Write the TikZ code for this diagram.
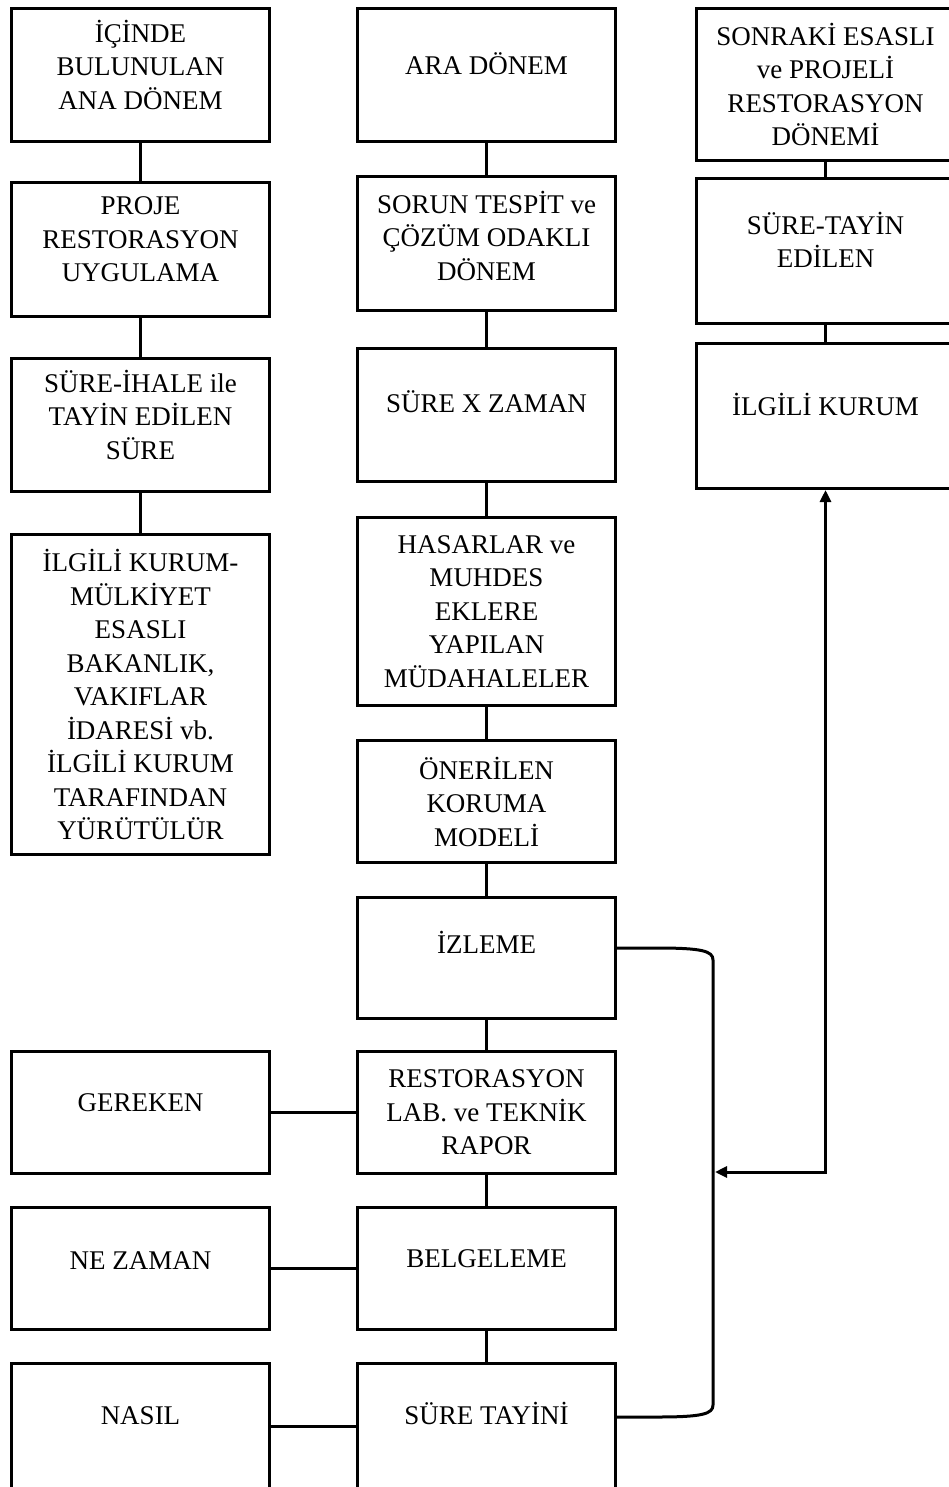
\documentclass[tikz,border=0pt]{standalone}
\usepackage{fontspec}
\setmainfont{Liberation Serif}
\usetikzlibrary{arrows.meta,positioning}
\newcommand{\altbos}[1]{\rule[-#1pt]{0pt}{#1pt}}

\begin{document}
\begin{tikzpicture}[x=1pt,y=-1pt,
    kutu/.style={draw,line width=3pt,minimum width=258pt,inner sep=2pt,align=center,font=\fontsize{27}{33.5}\selectfont},
    hat/.style={line width=3pt},
    ok/.style={hat,{Triangle[length=12pt,width=11pt]}-{Triangle[length=12pt,width=11pt]}}
]
\useasboundingbox (0,0) rectangle (949,1487);

\node[kutu,minimum height=133pt] (ana) at (140.5,75) {İÇİNDE\\BULUNULAN\\ANA DÖNEM\altbos{21}};
\node[kutu,minimum height=134pt,below=38pt of ana] (proje) {PROJE\\RESTORASYON\\UYGULAMA\altbos{20}};
\node[kutu,minimum height=133pt,below=39pt of proje] (ihale) {SÜRE-İHALE ile\\TAYİN EDİLEN\\SÜRE\altbos{21}};
\node[kutu,minimum height=320pt,below=40pt of ihale] (kurum) {İLGİLİ KURUM-\\MÜLKİYET\\ESASLI\\BAKANLIK,\\VAKIFLAR\\İDARESİ vb.\\İLGİLİ KURUM\\TARAFINDAN\\YÜRÜTÜLÜR};

\node[kutu,minimum height=133pt] (ara) at (486.5,75) {ARA DÖNEM\altbos{23}};
\node[kutu,minimum height=134pt,below=32pt of ara] (sorun) {SORUN TESPİT ve\\ÇÖZÜM ODAKLI\\DÖNEM\altbos{16}};
\node[kutu,minimum height=133pt,below=35pt of sorun] (surex) {SÜRE X ZAMAN\altbos{27}};
\node[kutu,minimum height=188pt,below=33pt of surex] (hasar) {HASARLAR ve\\MUHDES\\EKLERE\\YAPILAN\\MÜDAHALELER};
\node[kutu,minimum height=122pt,below=32pt of hasar] (oneri) {ÖNERİLEN\\KORUMA\\MODELİ};
\node[kutu,minimum height=121pt,below=32pt of oneri] (izleme) {İZLEME\altbos{31}};
\node[kutu,minimum height=122pt,below=30pt of izleme] (lab) {RESTORASYON\\LAB. ve TEKNİK\\RAPOR};
\node[kutu,minimum height=122pt,below=31pt of lab] (belge) {BELGELEME\altbos{20}};
\node[kutu,minimum height=125pt,below=31pt of belge] (tayin) {SÜRE TAYİNİ\altbos{25}};

\node[kutu,minimum height=122pt,left=85pt of lab] (gereken) {GEREKEN\altbos{19}};
\node[kutu,minimum height=122pt,left=85pt of belge] (nezaman) {NE ZAMAN\altbos{15}};
\node[kutu,minimum height=125pt,left=85pt of tayin] (nasil) {NASIL\altbos{20}};

\node[kutu,minimum height=152pt] (sonraki) at (825.5,84.5) {SONRAKİ ESASLI\\ve PROJELİ\\RESTORASYON\\DÖNEMİ};
\node[kutu,minimum height=145pt,below=15pt of sonraki] (suretayin) {SÜRE-TAYİN\\EDİLEN\altbos{22}};
\node[kutu,minimum height=145pt,below=17pt of suretayin] (ilgili) {İLGİLİ KURUM\altbos{23}};

\draw[hat] (ana) -- (proje);
\draw[hat] (proje) -- (ihale);
\draw[hat] (ihale) -- (kurum);
\draw[hat] (ara) -- (sorun);
\draw[hat] (sorun) -- (surex);
\draw[hat] (surex) -- (hasar);
\draw[hat] (hasar) -- (oneri);
\draw[hat] (oneri) -- (izleme);
\draw[hat] (izleme) -- (lab);
\draw[hat] (lab) -- (belge);
\draw[hat] (belge) -- (tayin);
\draw[hat] (gereken) -- (lab);
\draw[hat] (nezaman) -- (belge);
\draw[hat] (nasil) -- (tayin);
\draw[hat] (sonraki) -- (suretayin);
\draw[hat] (suretayin) -- (ilgili);

\coordinate (kolust) at (713,960);
\coordinate (kolalt) at (713,1405);
\coordinate (okuc) at (715,1172);
\draw[hat] ([yshift=10pt]izleme.east) -- ++(40,0) .. controls +(45,0) and +(0,-9) .. (kolust) -- (kolalt) .. controls +(0,9) and +(45,0) .. ([xshift=40pt,yshift=9pt]tayin.east) -- ([yshift=9pt]tayin.east);
\draw[ok] (ilgili.south) |- (okuc);
\end{tikzpicture}
\end{document}
